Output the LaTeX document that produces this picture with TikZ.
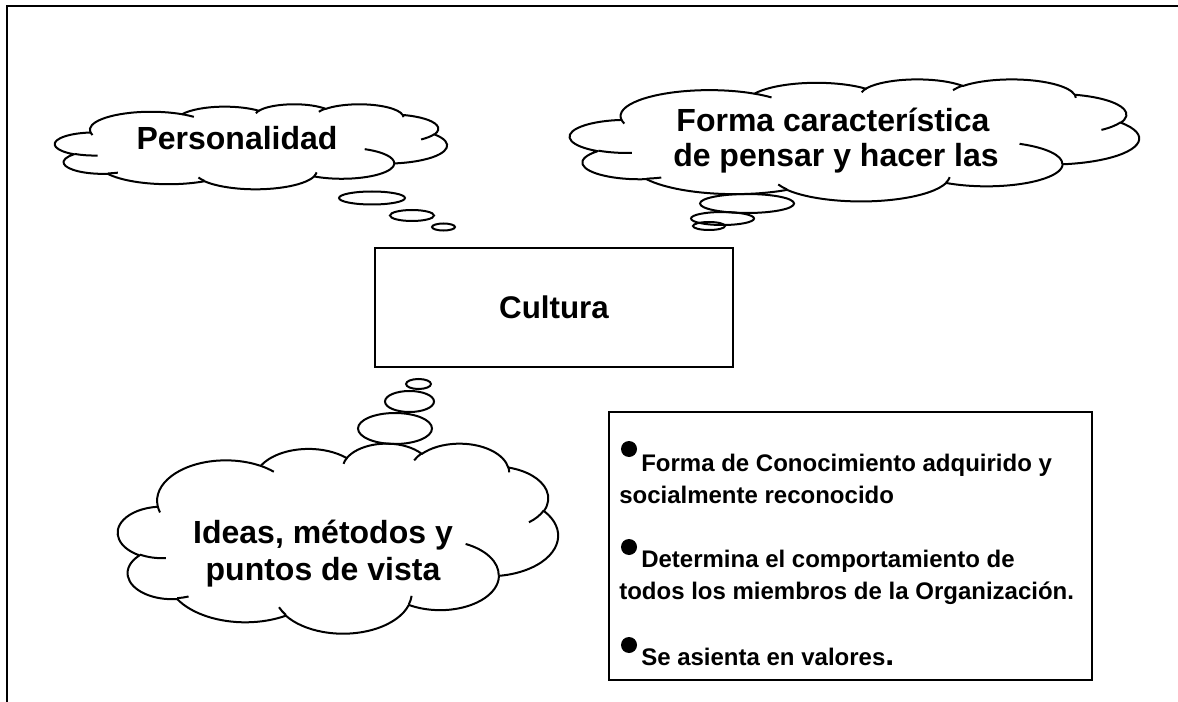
\documentclass[tikz,border=0pt]{standalone}
\usepackage{fontspec}
\setmainfont{Liberation Sans}
% elliptical arc with OOXML-style (visual) angles
\newcommand\carc[4]{%
  \pgfextra{%
    \pgfmathsetmacro\cA{atan2((#1)*sin(#3),(#2)*cos(#3))}%
    \pgfmathsetmacro\cB{atan2((#1)*sin((#3)+(#4)),(#2)*cos((#3)+(#4)))}%
    \pgfmathsetmacro\cD{\cB-\cA}%
    \pgfmathsetmacro\cD{\cD+360*((#4)>0)*(\cD<0)-360*((#4)<0)*(\cD>0)}%
    \global\let\cA\cA \global\let\cD\cD
  }%
  arc[start angle=\cA, delta angle=\cD, x radius=#1, y radius=#2]%
}
\newcommand\cloudpath{%
(3.9,14.37)
\carc{6.753}{9.19}{-190.4875}{123.7805}
\carc{5.333}{7.267}{-144.1024}{89.9452}
\carc{4.365}{5.945}{-145.8079}{99.723}
\carc{4.857}{6.595}{-130.9861}{117.2417}
\carc{5.333}{7.273}{-78.7089}{109.0269}
\carc{6.775}{9.22}{-46.2673}{130.269}
\carc{5.785}{7.867}{0.625}{114.0333}
\carc{6.752}{9.215}{22.4516}{115.1726}
\carc{7.72}{10.543}{66.2426}{75.711}
\carc{4.36}{5.918}{-274.9421}{146.7356}
\carc{4.345}{5.945}{-246.8285}{152.5189}
-- cycle}
\newcommand\cloudinner{%
(4.693,26.177) \carc{4.345}{5.945}{86.742}{26.4295}
(6.928,34.899) \carc{4.36}{5.918}{73.6105}{11.4475}
(16.478,39.09) \carc{6.752}{9.215}{137.6242}{14.0811}
(28.827,34.751) \carc{6.752}{9.215}{6.4533}{15.9984}
(34.129,22.954) \carc{5.785}{7.867}{-70.2924}{70.9174}
(41.798,15.354) \carc{5.333}{7.273}{30.318}{27.7515}
(38.324,5.426) \carc{4.857}{6.595}{-13.7443}{14.8589}
(29.078,3.952) \carc{4.857}{6.595}{-149.1815}{18.1954}
(22.141,4.72) \carc{4.365}{5.945}{-163.4943}{17.6864}
(14,5.192) \carc{6.753}{9.19}{-66.707}{12.3194}
(4.127,15.789) \carc{6.753}{9.19}{157.6544}{11.8582}
}
\newcommand\wordcloud[4]{% x0 y0 w h
  \begin{scope}[shift={(#1,#2)}, xscale=#3/43.2, yscale=#4/43.2]
    \draw[cloudline] \cloudpath;
    \draw[cloudline] \cloudinner;
  \end{scope}}
\begin{document}
\begin{tikzpicture}[x=0.75pt,y=-0.75pt,
  cloudline/.style={line width=1.5pt, line join=round},
  bubble/.style={line width=1.5pt},
  boxline/.style={draw, line width=1.5pt, inner sep=0pt},
  cloudtext/.style={anchor=base, inner sep=0pt, font=\bfseries\fontsize{24}{28}\selectfont},
  infotext/.style={anchor=base west, inner sep=0pt, font=\bfseries\fontsize{18}{21}\selectfont},
  bulletdot/.style={fill=black}]
\useasboundingbox (0,0) rectangle (1178,702);
\fill[white] (0,0) rectangle (1178,702);
% outer frame
\coordinate (fbl) at (7,702);
\coordinate (ftl) at (7,6);
\coordinate (ftr) at (1178,6);
\draw[line width=1.5pt] (fbl) -- (ftl) -- (ftr);

% central box
\node[boxline, minimum width=268.5pt, minimum height=89.25pt,
      font=\bfseries\fontsize{23.5}{28}\selectfont] (cultura) at (554,307.5) {Cultura};

% cloud 1
\wordcloud{55}{104}{392}{85}
\node[cloudtext] (personalidad) at (237,150) {Personalidad};
\draw[bubble] (372,198) ellipse [x radius=33, y radius=6.5];
\draw[bubble] (412,215.5) ellipse [x radius=22, y radius=5.5];
\draw[bubble] (443.5,227) ellipse [x radius=11.5, y radius=3.5];

% cloud 2
\wordcloud{570}{79}{569}{122}
\node[cloudtext] (forma1) at (833,132) {Forma característica};
\node[cloudtext] (forma2) at (836,167) {de pensar y hacer las};
\draw[bubble] (747,203.5) ellipse [x radius=47, y radius=9.5];
\draw[bubble] (722.5,218.5) ellipse [x radius=31.5, y radius=6.5];
\draw[bubble] (709,226) ellipse [x radius=16, y radius=4];

% cloud 3
\wordcloud{118}{443}{440}{190}
\node[cloudtext] (ideas1) at (323,543) {Ideas, métodos y};
\node[cloudtext] (ideas2) at (323,580) {puntos de vista};
\draw[bubble] (395,428.5) ellipse [x radius=37, y radius=15.5];
\draw[bubble] (409.5,401.5) ellipse [x radius=24.5, y radius=10.5];
\draw[bubble] (418.5,384) ellipse [x radius=12.5, y radius=5];

% info box
\node[boxline, minimum width=361.9pt, minimum height=201pt] (info) at (850.75,546) {};
\fill[bulletdot] (629,449) circle [radius=8];
\fill[bulletdot] (629,547) circle [radius=8];
\fill[bulletdot] (629,645) circle [radius=8];
\node[infotext] (l1) at (641,471) {Forma de Conocimiento adquirido y};
\node[infotext] (l2) at (619,503) {socialmente reconocido};
\node[infotext] (l3) at (641,567) {Determina el comportamiento de};
\node[infotext] (l4) at (619,599) {todos los miembros de la Organización.};
\node[infotext] (l5) at (641,665) {Se asienta en valores{\fontsize{24}{24}\selectfont.}};
\end{tikzpicture}
\end{document}
